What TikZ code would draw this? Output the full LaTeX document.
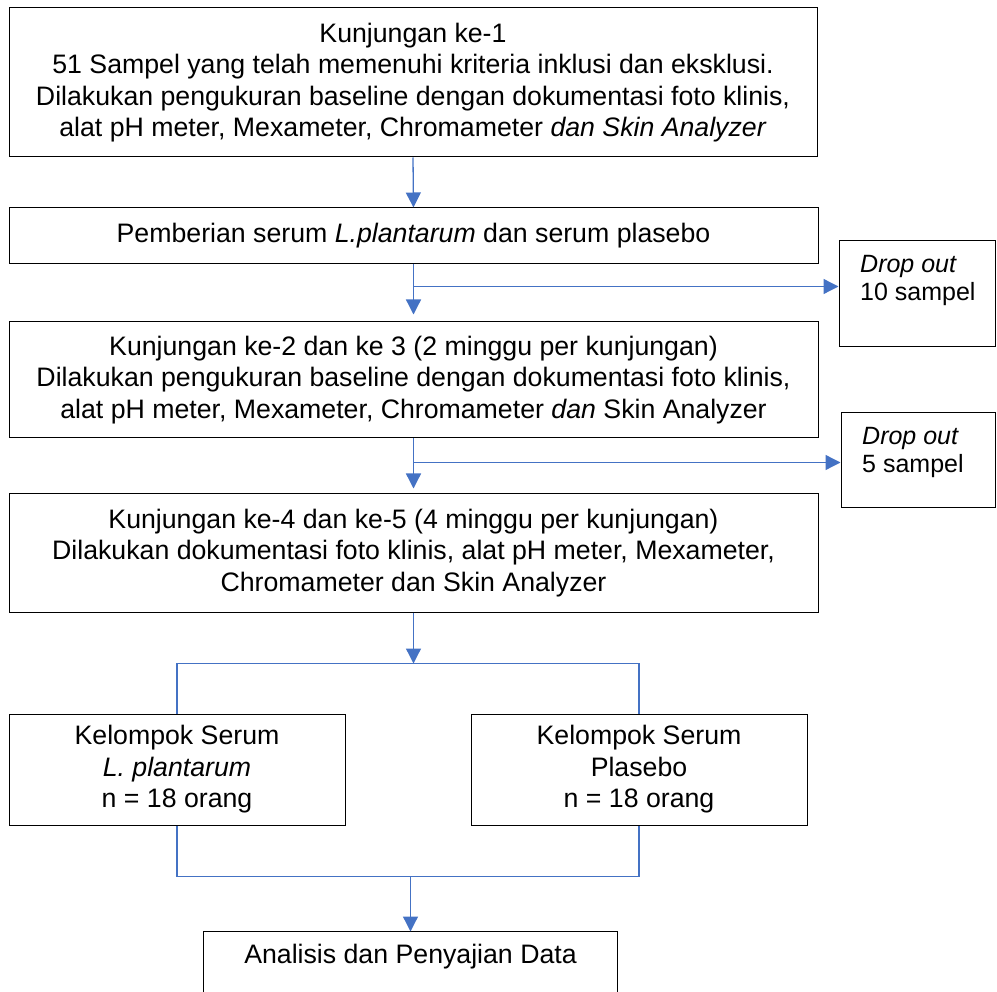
\documentclass[tikz,border=0pt]{standalone}
\usepackage{fontspec}
\setmainfont{Liberation Sans}
\usetikzlibrary{arrows.meta,calc}
\definecolor{conblue}{HTML}{4472C4}
\begin{document}
\begin{tikzpicture}[x=1pt,y=-1pt,
  box/.style={draw=black,line width=1pt,align=center,inner sep=0pt,
    font=\fontsize{26.7}{31.5}\selectfont},
  dbox/.style={draw=black,line width=1pt,inner sep=0pt},
  dtext/.style={align=left,inner sep=0pt,font=\fontsize{25}{28}\selectfont},
  con/.style={draw=conblue,line width=1.3pt},
  arr/.style={con,-{Triangle[width=15pt,length=15pt]}}]
\useasboundingbox (0,0) rectangle (997,992);
\node[box,minimum width=808pt,minimum height=149pt] (b1) at (413,82.5)
  {Kunjungan ke-1\\51 Sampel yang telah memenuhi kriteria inklusi dan eksklusi.\\Dilakukan pengukuran baseline dengan dokumentasi foto klinis,\\alat pH meter, Mexameter, Chromameter \textit{dan Skin Analyzer}};
\node[box,minimum width=809pt,minimum height=56pt] (b2) at (413.5,236)
  {Pemberian serum \textit{L.plantarum} dan serum plasebo};
\node[box,minimum width=809pt,minimum height=116pt] (b3) at (413.5,380)
  {Kunjungan ke-2 dan ke 3 (2 minggu per kunjungan)\\Dilakukan pengukuran baseline dengan dokumentasi foto klinis,\\alat pH meter, Mexameter, Chromameter \textit{dan} Skin Analyzer};
\node[box,minimum width=809pt,minimum height=118pt] (b4) at (413.5,553)
  {Kunjungan ke-4 dan ke-5 (4 minggu per kunjungan)\\Dilakukan dokumentasi foto klinis, alat pH meter, Mexameter,\\Chromameter dan Skin Analyzer};
\node[box,minimum width=336pt,minimum height=111pt] (b5) at (177,769.5)
  {Kelompok Serum\\\textit{L. plantarum}\\n = 18 orang};
\node[box,minimum width=336pt,minimum height=111pt] (b6) at (639,769.5)
  {Kelompok Serum\\Plasebo\\n = 18 orang};
\node[box,draw=none,minimum width=413pt,minimum height=50pt] (b7) at (410.5,957)
  {Analisis dan Penyajian Data};
\draw[line width=1pt] ([yshift=-40pt]b7.south west) |- (b7.north east) -- ([yshift=-40pt]b7.south east);
% drop out boxes
\node[dbox,minimum width=156pt,minimum height=106pt] (d1) at (917,294) {};
\node[dtext,anchor=west] (t1) at (860,280) {\textit{Drop out}\\10 sampel};
\node[dbox,minimum width=154pt,minimum height=94pt] (d2) at (918,460) {};
\node[dtext,anchor=west] (t2) at (862,452) {\textit{Drop out}\\5 sampel};
% connectors
\draw[arr] (b1.south) -- (b2.north);
\coordinate (j1) at ($(b2.south)+(0,22)$);
\draw[arr] (b2.south) -- ([yshift=7pt]b3.north);
\draw[arr] (j1) -- (j1 -| d1.west);
\coordinate (j2) at ($(b3.south)+(0,24)$);
\draw[arr] (b3.south) -- ([yshift=5pt]b4.north);
\draw[arr] (j2) -- (j2 -| d2.west);
\coordinate (h1) at ($(b4.south)+(0,51)$);
\draw[arr] (b4.south) -- (h1);
\draw[con] (b5.north) |- (h1) -| (b6.north);
\coordinate (h2) at ($(b5.south)+(0,51)$);
\draw[con] (b5.south) |- (h2) -| (b6.south);
\draw[arr] (h2 -| b7.north) -- (b7.north);
\end{tikzpicture}
\end{document}
